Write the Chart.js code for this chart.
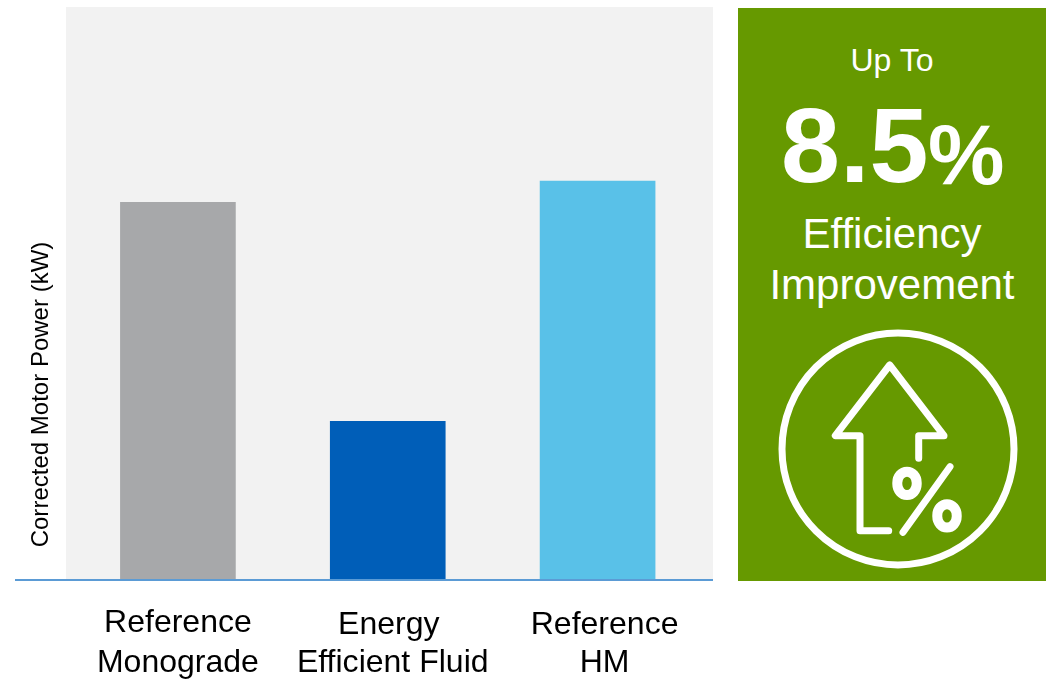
<!DOCTYPE html>
<html>
<head>
<meta charset="utf-8">
<script src="https://cdn.jsdelivr.net/npm/chart.js@4"></script>
<style>
  html, body { margin: 0; background: #fff; overflow: hidden; }
  #wrap { position: relative; width: 1053px; height: 679px; font-family: "Liberation Sans", Arial, sans-serif; }
  #c { position: absolute; left: 0; top: 0; }
  #panel { position: absolute; left: 738px; top: 8px; width: 308px; height: 573px; background: #669900; }
  #panel svg { position: absolute; left: 0; top: 0; }
</style>
</head>
<body>
<div id="wrap">
  <canvas id="c" width="1053" height="679"></canvas>
  <div id="panel">
    <svg width="308" height="573" viewBox="738 8 308 573" fill="#fff" font-family="Liberation Sans, Arial, sans-serif">
      <text x="892" y="71" font-size="32" text-anchor="middle">Up To</text>
      <text x="781" y="182" font-size="106" font-weight="bold">8.5</text>
      <text x="928" y="184" font-size="86" font-weight="bold">%</text>
      <text x="892" y="248" font-size="42" letter-spacing="0.01" text-anchor="middle">Efficiency</text>
      <text x="892" y="299" font-size="42" text-anchor="middle">Improvement</text>
      <g fill="none" stroke="#fff" stroke-linecap="round" stroke-linejoin="round">
        <circle cx="898" cy="449" r="116" stroke-width="7"/>
        <path stroke-width="7" d="M918.7 458.3V435.7H944L889.7 365L835.3 435.7H860V530.7H888.7"/>
        <path stroke-width="7" d="M950 466.7L903 532.3"/>
        <rect x="897.3" y="471.7" width="19.4" height="23.4" rx="9.7" ry="11" stroke-width="10"/>
        <rect x="937.3" y="504.2" width="19.4" height="23.4" rx="9.7" ry="11" stroke-width="10"/>
      </g>
    </svg>
  </div>
</div>
<script>
const categories = [['Reference', 'Monograde'], ['Energy', 'Efficient Fluid'], ['Reference', 'HM']]
const power = [65.9, 27.7, 69.6]
const barColors = ['#a7a8aa', '#005eb8', '#59c1e8']
const axisTitle = 'Corrected Motor Power (kW)'

// grey plot panel sits behind the bars, wider than the category band
const backdrop = {
  id: 'backdrop',
  beforeDatasetsDraw(chart) {
    const { ctx, chartArea } = chart
    ctx.save()
    ctx.fillStyle = '#f2f2f2'
    ctx.fillRect(66, chartArea.top, 647, chartArea.bottom - chartArea.top)
    ctx.restore()
  }
}

// baseline, axis title and the category labels, which are not centred on the bars in the original
const firstLineShiftX = [0, 1, 7]
const secondLineShiftX = [0, 5, 7]
const firstLineShiftY = [0, 2, 2]
const annotations = {
  id: 'annotations',
  afterDatasetsDraw(chart) {
    const { ctx } = chart
    const x = chart.scales.x
    const base = chart.scales.y.getPixelForValue(0)
    ctx.save()
    ctx.strokeStyle = '#5b9bd5'
    ctx.lineWidth = 2
    ctx.beginPath()
    ctx.moveTo(15, base)
    ctx.lineTo(713, base)
    ctx.stroke()

    ctx.fillStyle = '#000'
    ctx.textAlign = 'center'
    ctx.textBaseline = 'alphabetic'
    ctx.letterSpacing = '0.01px' // stops the ffi ligature
    ctx.font = '32px "Liberation Sans", Arial, sans-serif'
    categories.forEach((lines, i) => {
      const cx = x.getPixelForValue(i)
      ctx.fillText(lines[0], cx + firstLineShiftX[i], 632 + firstLineShiftY[i])
      ctx.fillText(lines[1], cx + secondLineShiftX[i], 672)
    })

    ctx.translate(48, 394.5)
    ctx.rotate(-Math.PI / 2)
    ctx.font = '24px "Liberation Sans", Arial, sans-serif'
    ctx.fillText(axisTitle, 0, 0)
    ctx.restore()
  }
}

new Chart(document.getElementById('c'), {
  type: 'bar',
  data: {
    labels: categories,
    datasets: [{ label: axisTitle, data: power, backgroundColor: barColors, borderWidth: 0, barThickness: 115 }]
  },
  options: {
    responsive: false,
    animation: false,
    layout: { padding: { left: 73, right: 350.5, top: 7, bottom: 99 } },
    plugins: { legend: { display: false }, tooltip: { enabled: false } },
    scales: {
      x: { display: false },
      y: { display: false, min: 0, max: 100 }
    }
  },
  plugins: [backdrop, annotations]
})
</script>
</body>
</html>
